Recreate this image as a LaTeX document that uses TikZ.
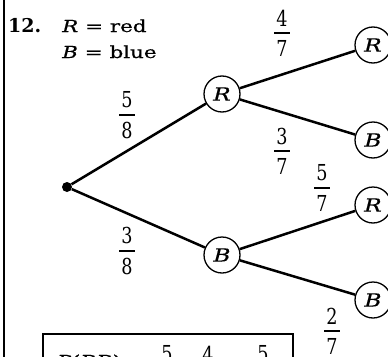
\documentclass[tikz,border=0pt]{standalone}
\usepackage{fontspec}
\newfontfamily\hdr{DejaVu Serif}[FakeStretch=1.3, FakeBold=0.6]
\newfontfamily\hdrb{DejaVu Serif}
\newfontfamily\digf{DejaVu Serif}[FakeStretch=0.8]
\newcommand{\fr}[2]{\vbox{\offinterlineskip\halign{\hfil##\hfil\cr #1\cr\noalign{\kern6pt}\vrule width 16pt height 1.8pt\cr\noalign{\kern6pt}#2\cr}}}
\begin{document}
\begin{tikzpicture}[x=1pt,y=-1pt,
  txt/.style={font=\hdr\fontsize{16.5}{20}\selectfont, inner sep=0pt},
  frac/.style={font=\digf\fontsize{22}{26}\selectfont, inner sep=0pt},
  st/.style={circle, draw, line width=1.3pt, minimum size=36pt, inner sep=0pt, font=\hdr\fontsize{18}{21}\selectfont\itshape},
  edge/.style={line width=2.5pt},
  dot/.style={circle, fill, minimum size=10pt, inner sep=0pt}]
\useasboundingbox (0,0) rectangle (388,356);
\clip (0,0) rectangle (388,356);
% left rule
\draw[line width=1.8pt] (4,-5) -- (4,370);
% header
\node[inner sep=0pt, anchor=base west, font=\hdrb\fontsize{19}{22}\selectfont\bfseries] (num) at (8,32) {12.};
\node[txt, anchor=base west] (lr) at (62,32) {\textit{R} = red};
\node[txt, anchor=base west] (lb) at (62,58) {\textit{B} = blue};
% tree nodes
\node[dot] (root) at (67,187) {};
\node[st] (r1) at (222,94) {R};
\node[st] (b1) at (222,255) {B};
\node[st] (rr) at (373,45) {R};
\node[st] (rb) at (373,140) {B};
\node[st] (br) at (373,205) {R};
\node[st] (bb) at (373,300) {B};
% edges
\draw[edge] (root) -- (r1);
\draw[edge] (root) -- (b1);
\draw[edge] (r1) -- (rr);
\draw[edge] (r1) -- (rb);
\draw[edge] (b1) -- (br);
\draw[edge] (b1) -- (bb);
% fractions
\node[frac] (f58) at (127,115) {\fr{5}{8}};
\node[frac] (f38) at (127,251) {\fr{3}{8}};
\node[frac] (f47) at (282,33) {\fr{4}{7}};
\node[frac] (f37) at (282,151) {\fr{3}{7}};
\node[frac] (f57) at (322,188) {\fr{5}{7}};
\node[frac] (f27) at (332,331) {\fr{2}{7}};
% bottom box (cut off)
\draw[line width=1.5pt] (43,334) rectangle (293,420);
\node[txt, anchor=base west] (prr) at (57,367) {\textit{P}(\textit{RR})};
\node[txt] (eq1) at (145,364) {=};
\node[frac] (g1) at (167,369) {\fr{5}{8}};
\node[txt] (dt) at (188,364) {·};
\node[frac] (g2) at (208,369) {\fr{4}{7}};
\node[txt] (eq2) at (236,364) {=};
\node[frac] (g3) at (263,369) {\fr{5}{14}};
\end{tikzpicture}
\end{document}
